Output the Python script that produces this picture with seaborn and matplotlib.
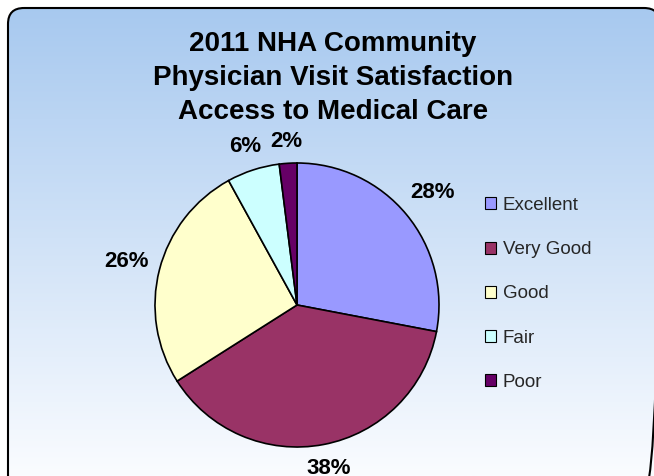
import numpy as np
import matplotlib
matplotlib.use("Agg")
import matplotlib.pyplot as plt
import matplotlib.colors as mcolors
from matplotlib.patches import FancyBboxPatch, Patch
import seaborn as sns

# Survey results: share of respondents per rating
categories = ["Excellent", "Very Good", "Good", "Fair", "Poor"]
shares = [28, 38, 26, 6, 2]
slice_colors = ["#9999FF", "#993366", "#FFFFCC", "#CCFFFF", "#660066"]
title_lines = ["2011 NHA Community", "Physician Visit Satisfaction", "Access to Medical Care"]

sns.set_theme(style="white")
plt.rcParams["font.family"] = ["Liberation Sans", "DejaVu Sans"]
palette = sns.color_palette(slice_colors)

W, H = 654, 476
fig = plt.figure(figsize=(W / 100, H / 100), dpi=100)
fig.patch.set_facecolor("white")

# Rounded chart area with a vertical blue-to-white gradient
bg = fig.add_axes([0, 0, 1, 1])
grad = np.linspace(0, 1, 256)[:, None]
cmap = mcolors.LinearSegmentedColormap.from_list("panel", ["#A6C8EF", "#FAFCFF"])
im = bg.imshow(grad, cmap=cmap, extent=(0, W, H, 0), aspect="auto", zorder=0)
frame = FancyBboxPatch((8, 8), 652, 484, boxstyle="round,pad=0,rounding_size=16",
                       facecolor="none", edgecolor="black", linewidth=1.5, zorder=2)
bg.add_patch(frame)
im.set_clip_path(frame)
bg.set_xlim(0, W)
bg.set_ylim(H, 0)
bg.axis("off")

# Title, one line at a time
for i, line in enumerate(title_lines):
    fig.text(333 / W, 1 - (44 + 34 * i) / H, line, ha="center", va="center",
             fontsize=20, fontweight="bold", color="black")

# Pie
cx, cy, R = 297, 305, 142
ax = fig.add_axes([(cx - R) / W, (H - cy - R) / H, 2 * R / W, 2 * R / H])
wedges, _, pct_texts = ax.pie(
    shares, colors=palette, startangle=90, counterclock=False,
    wedgeprops=dict(edgecolor="black", linewidth=1.2),
    autopct=lambda p: f"{p:.0f}%", pctdistance=1.2,
    textprops=dict(fontsize=16, fontweight="bold", color="black"),
)
ax.set_xlim(-1, 1)
ax.set_ylim(-1, 1)
ax.set_aspect("equal")
ax.axis("off")

# Push each percentage label just outside the rim, clear of the slice
fig.canvas.draw()
renderer = fig.canvas.get_renderer()
gap = 10
for w, t in zip(wedges, pct_texts):
    theta = np.deg2rad((w.theta1 + w.theta2) / 2)
    bb = t.get_window_extent(renderer)
    half = abs(np.cos(theta)) * bb.width / 2 + abs(np.sin(theta)) * bb.height / 2
    r = (R + gap + half) / R
    t.set_position((r * np.cos(theta), r * np.sin(theta)))
    t.set_ha("center")
    t.set_va("center")

# Legend
handles = [Patch(facecolor=c, edgecolor="black", linewidth=0.8) for c in palette]
fig.legend(handles, categories, loc="upper left",
           bbox_to_anchor=(485 / W, 1 - 197 / H), frameon=False,
           prop=dict(size=13.5), handlelength=0.6, handleheight=0.6,
           handletextpad=0.35, labelspacing=1.45, borderpad=0, borderaxespad=0)

fig.savefig("out.png", dpi=100)
